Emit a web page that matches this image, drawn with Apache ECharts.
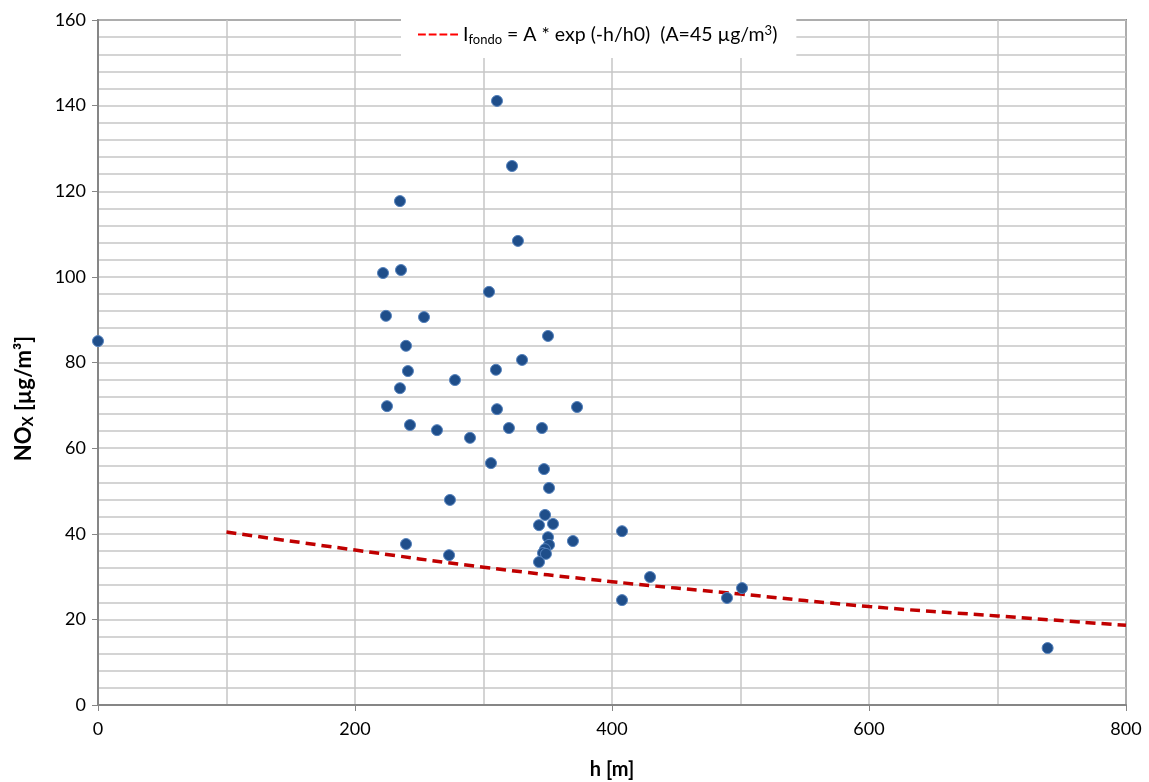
<!DOCTYPE html>
<html>
<head>
<meta charset="utf-8">
<script src="https://cdn.jsdelivr.net/npm/echarts@6/dist/echarts.min.js"></script>
<style>
html,body{margin:0;padding:0;background:#fff;}
#chart{width:1149px;height:782px;}
</style>
</head>
<body>
<div id="chart"></div>
<script>
// Measured points: [h (m), NOx (µg/m³)]
const hValues = [0, 310.5, 322.2, 235.0, 326.8, 221.8, 235.8, 304.3, 224.1, 253.7,
  350.2, 239.7, 330.0, 241.2, 309.7, 277.8, 235.0, 224.9, 310.5, 372.8,
  242.8, 263.8, 319.8, 345.5, 289.5, 305.8, 347.1, 351.0, 273.9, 347.9,
  343.2, 354.1, 407.8, 350.2, 369.6, 239.7, 351.0, 347.9, 346.3, 348.6,
  273.2, 343.2, 429.6, 501.2, 407.8, 489.5, 739.0];
const noxValues = [85.0, 141.1, 125.9, 117.7, 108.4, 100.9, 101.6, 96.5, 90.9, 90.6,
  86.2, 83.9, 80.6, 78.0, 78.3, 75.9, 74.0, 69.8, 69.1, 69.6,
  65.4, 64.2, 64.7, 64.7, 62.4, 56.5, 55.1, 50.7, 47.9, 44.4,
  42.0, 42.3, 40.6, 39.2, 38.3, 37.6, 37.4, 36.4, 35.5, 35.3,
  35.0, 33.4, 29.9, 27.3, 24.5, 25.0, 13.3];

// Background curve I_fondo
const fondoH = [100, 200, 300, 400, 500, 600, 700, 800];
const fondoVal = [40.4, 36.2, 32.2, 28.8, 25.9, 23.0, 20.8, 18.6];

const xTicks = { min: 0, max: 800, interval: 200 };
const yTicks = { min: 0, max: 160, interval: 20 };

const fontFam = 'Lato, "Open Sans", sans-serif';
const gridColor = '#c6c6c6';

const scatterData = hValues.map((h, i) => [h, noxValues[i]]);
const fondoData = fondoH.map((h, i) => [h, fondoVal[i]]);

const chart = echarts.init(document.getElementById('chart'), null, { renderer: 'canvas' });
chart.setOption({
  animation: false,
  backgroundColor: '#fff',
  grid: {
    left: 98, right: 23, top: 20, bottom: 77,
    outerBoundsMode: 'none', containLabel: false,
    show: true, borderColor: '#333', borderWidth: 1.5, backgroundColor: 'transparent'
  },
  legend: {
    data: [{
      name: 'fondo',
      icon: 'path://M0,0h8v2h-8z M11,0h8v2h-8z M22,0h8v2h-8z M33,0h8v2h-8z',
      itemStyle: { color: '#ff0000' }
    }],
    left: 401, top: 12,
    backgroundColor: '#fff',
    padding: [12, 19, 12, 17],
    itemWidth: 40, itemHeight: 2, itemGap: 2,
    formatter: function () {
      return '{a|I}{sub|fondo}{a| = A * exp (-h/h0)  (A=45 µg/m}{sup|3}{a|)}';
    },
    textStyle: {
      fontFamily: fontFam, color: '#000', fontSize: 19.5,
      rich: {
        a: { fontFamily: fontFam, fontSize: 19.5, color: '#000' },
        sub: { fontFamily: fontFam, fontSize: 13, color: '#000', padding: [10, 0, 0, 0] },
        sup: { fontFamily: fontFam, fontSize: 13, color: '#000', padding: [0, 0, 8, 0] }
      }
    }
  },
  xAxis: {
    type: 'value', min: xTicks.min, max: xTicks.max, interval: xTicks.interval,
    name: 'h [m]', nameLocation: 'middle', nameGap: 55,
    nameTextStyle: { fontFamily: fontFam, fontSize: 20, fontWeight: 'bold', color: '#000' },
    axisLine: { show: true, lineStyle: { color: '#868686', width: 2 } },
    axisTick: { show: true, length: 6, lineStyle: { color: '#868686', width: 1 } },
    axisLabel: { fontFamily: fontFam, fontSize: 18, color: '#000', margin: 15 },
    splitLine: { show: true, lineStyle: { color: gridColor, width: 1.5 } },
    minorTick: { show: false, splitNumber: 2 },
    minorSplitLine: { show: true, lineStyle: { color: gridColor, width: 1.5 } }
  },
  yAxis: {
    type: 'value', min: yTicks.min, max: yTicks.max, interval: yTicks.interval,
    name: '{b|NO}{s|X}{b| [µg/m³]}', nameLocation: 'middle', nameGap: 62,
    nameTextStyle: {
      fontFamily: fontFam, fontSize: 22, fontWeight: 'bold', color: '#000',
      padding: [0, 72, 0, 0],
      rich: {
        b: { fontFamily: fontFam, fontSize: 22, fontWeight: 'bold', color: '#000' },
        s: { fontFamily: fontFam, fontSize: 15, fontWeight: 'bold', color: '#000', padding: [10, 0, 0, 0] }
      }
    },
    axisLine: { show: true, lineStyle: { color: '#868686', width: 2 } },
    axisTick: { show: true, length: 6, lineStyle: { color: '#868686', width: 1 } },
    axisLabel: { fontFamily: fontFam, fontSize: 18, color: '#000', margin: 12 },
    splitLine: { show: true, lineStyle: { color: gridColor, width: 1.5 } },
    minorTick: { show: false, splitNumber: 5 },
    minorSplitLine: { show: true, lineStyle: { color: gridColor, width: 1.5 } }
  },
  series: [
    {
      name: 'fondo', type: 'line', data: fondoData, smooth: true,
      showSymbol: false, symbol: 'none',
      lineStyle: { color: '#c00000', width: 3.5, type: [10, 6] },
      itemStyle: { color: '#c00000' },
      z: 3
    },
    {
      name: 'NOx', type: 'scatter', data: scatterData,
      symbol: 'circle', symbolSize: 11,
      itemStyle: { color: '#1f4e8a', borderColor: '#5582bd', borderWidth: 1, opacity: 1 },
      z: 4
    }
  ]
});
</script>
</body>
</html>
